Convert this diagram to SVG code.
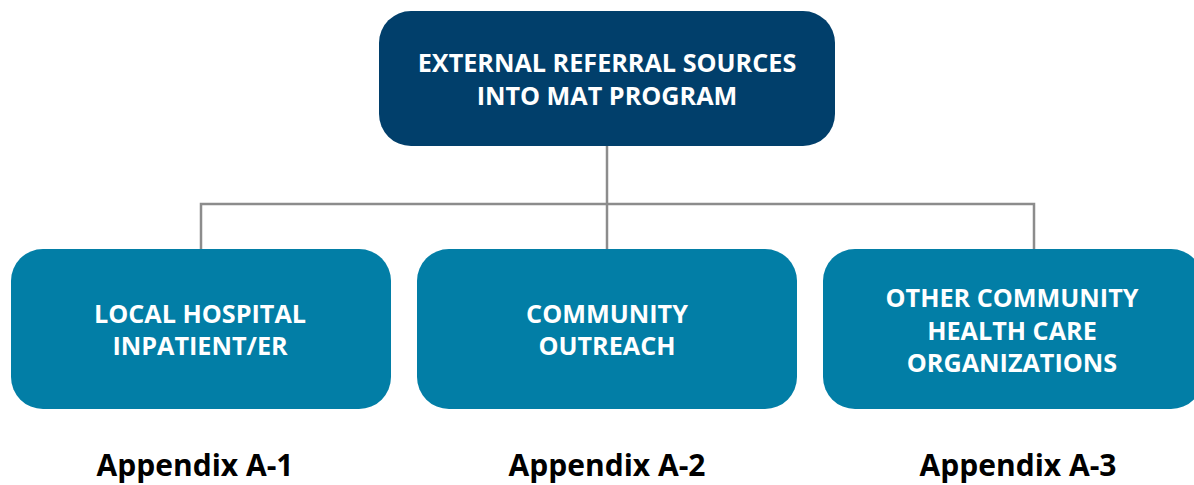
<svg xmlns="http://www.w3.org/2000/svg" width="1194" height="485" viewBox="0 0 1194 485">
<style>
.top{fill:#013f6b}
.box{fill:#027ea6}
.t{font-family:"Open Sans",sans-serif;font-weight:bold;fill:#ffffff;font-size:25.2px;text-anchor:middle}
.app{font-family:"Open Sans",sans-serif;font-weight:bold;fill:#000000;font-size:30px;text-anchor:middle}
.conn{fill:none;stroke:#8c8c8c;stroke-width:2.5}
</style>
<rect width="1194" height="485" fill="#ffffff"/>
<g id="connectors">
<path class="conn" d="M607 146 V249"/>
<path class="conn" d="M201 249 V204 H1034 V249"/>
</g>
<g id="root">
<rect class="top" x="379" y="11" width="456" height="135" rx="32"/>
<text class="t" x="607" y="72">EXTERNAL REFERRAL SOURCES</text>
<text class="t" x="607" y="105">INTO MAT PROGRAM</text>
</g>
<g id="hospital">
<rect class="box" x="11" y="249" width="380" height="160" rx="32"/>
<text class="t" x="200" y="323">LOCAL HOSPITAL</text>
<text class="t" x="200" y="355">INPATIENT/ER</text>
</g>
<g id="outreach">
<rect class="box" x="417" y="249" width="380" height="160" rx="32"/>
<text class="t" x="607" y="323">COMMUNITY</text>
<text class="t" x="607" y="355">OUTREACH</text>
</g>
<g id="other">
<rect class="box" x="823" y="249" width="380" height="160" rx="32"/>
<text class="t" x="1012" y="307">OTHER COMMUNITY</text>
<text class="t" x="1012" y="340">HEALTH CARE</text>
<text class="t" x="1012" y="372">ORGANIZATIONS</text>
</g>
<g id="appendix-labels">
<text class="app" x="195" y="476">Appendix A-1</text>
<text class="app" x="607" y="476">Appendix A-2</text>
<text class="app" x="1018" y="476">Appendix A-3</text>
</g>
</svg>
